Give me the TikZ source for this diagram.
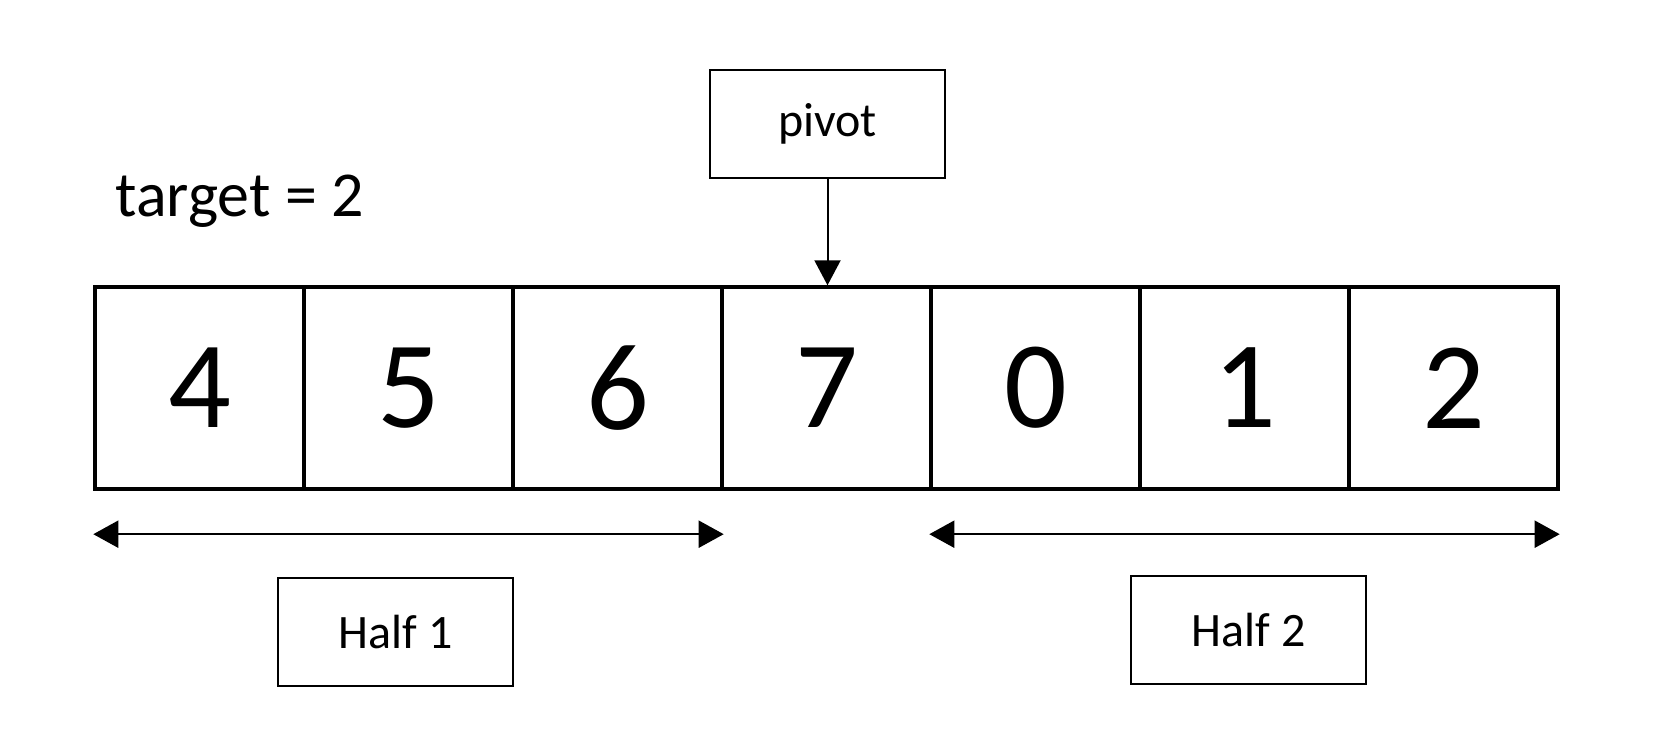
\documentclass[tikz,border=0pt]{standalone}
\usepackage{fontspec}
\setmainfont{Carlito}
\usetikzlibrary{arrows.meta,positioning}

\begin{document}
\begin{tikzpicture}[
  x=0.5pt, y=-0.5pt,
  cell/.style   ={rectangle, draw=black, line width=1.7pt, minimum width=104.5pt,
                  minimum height=101pt, inner sep=0pt, font=\fontsize{62}{70}\selectfont},
  tag/.style    ={rectangle, draw=black, line width=1.4pt, minimum width=117.5pt,
                  minimum height=54pt, inner sep=0pt, font=\fontsize{24}{28}\selectfont},
  arr/.style    ={-{Triangle[length=12.5pt, width=13pt]}, line width=1pt},
  spanarr/.style={{Triangle[length=12.5pt, width=13.5pt]}-{Triangle[length=12.5pt, width=13.5pt]}, line width=1pt}
]
\useasboundingbox (0,0) rectangle (1660,742);

% the rotated array
\foreach \v [count=\i] in {4,5,6,7,0,1,2}
  \node[cell] (c\i) at ({95+209*(\i-0.5)},388) {\v};

\node[anchor=base west, inner sep=0pt, font=\fontsize{32}{38}\selectfont] (target) at (115,217) {target = 2};

\node[tag] (pivot) at (827.5,124) {pivot};
\draw[arr] (pivot.south) -- (pivot.south |- c4.north);

% the two halves
\draw[spanarr] ([yshift=-21.75pt]c1.south west) -- ([yshift=-21.75pt]c3.south east);
\draw[spanarr] ([yshift=-21.75pt]c5.south west) -- ([yshift=-21.75pt]c7.south east);

\node[tag] (half1) at (395.5,632) {Half 1};
\node[tag] (half2) at (1248.5,630) {Half 2};
\end{tikzpicture}
\end{document}
